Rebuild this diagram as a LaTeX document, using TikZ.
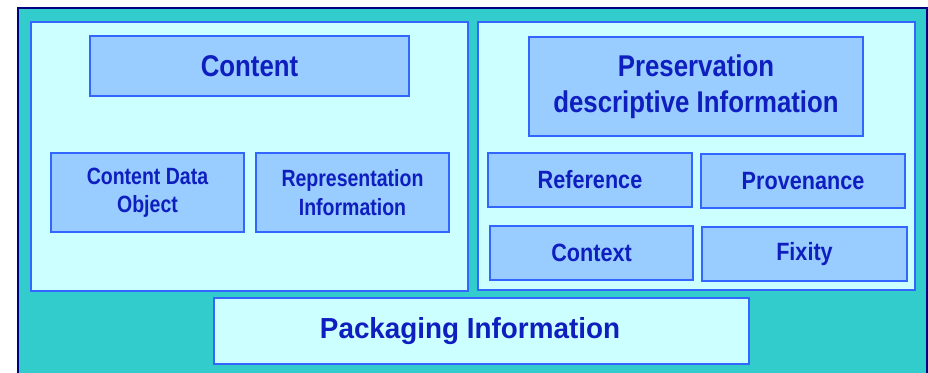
\documentclass[tikz,border=0pt]{standalone}
\usepackage{fontspec}
\setmainfont{Liberation Sans}
\newfontfamily\headfont[FakeStretch=0.86]{Liberation Sans}
\newfontfamily\itemfont[FakeStretch=0.865]{Liberation Sans}
\newfontfamily\subfont[FakeStretch=0.83]{Liberation Sans}
\newfontfamily\packfont[FakeStretch=0.96]{Liberation Sans}

\definecolor{frameteal}{HTML}{33CCCC}
\definecolor{framenavy}{HTML}{000080}
\definecolor{panelfill}{HTML}{CCFFFF}
\definecolor{boxfill}{HTML}{99CCFF}
\definecolor{boxedge}{HTML}{3366FF}
\definecolor{labelblue}{RGB}{15,30,190}

\tikzset{
  panel/.style={draw=boxedge, line width=2pt, fill=panelfill, inner sep=0pt},
  infobox/.style={draw=boxedge, line width=2pt, fill=boxfill, inner sep=0pt,
                  text=labelblue, align=center},
  headtext/.style={font=\headfont\bfseries\fontsize{30}{36}\selectfont},
  itemtext/.style={font=\itemfont\bfseries\fontsize{25}{29}\selectfont},
  subtext/.style={font=\subfont\bfseries\fontsize{23.5}{28.5}\selectfont},
  packtext/.style={text=labelblue, inner sep=0pt,
                   font=\packfont\bfseries\fontsize{29}{34}\selectfont}
}

\begin{document}
\begin{tikzpicture}[x=1pt, y=-1pt]
  \useasboundingbox (0,0) rectangle (928,372);

  % outer teal frame, running past the lower edge
  \begin{scope}
    \clip (0,0) rectangle (928,372);
    \draw[framenavy, line width=2pt, fill=frameteal] (18,8) rectangle (927,392);
  \end{scope}

  % the two panels
  \node[panel, minimum width=437pt, minimum height=269pt] (contentinfo) at (249.5,156.5) {};
  \node[panel, minimum width=437pt, minimum height=268pt] (pdi) at (696.5,156) {};

  % content side
  \node[infobox, headtext, minimum width=319pt, minimum height=60pt] (content) at (249.5,66) {Content};
  \node[infobox, subtext, minimum width=193pt, minimum height=79pt] (cdo) at (147.5,192.5) {Content Data\\Object};
  \node[infobox, subtext, minimum width=193pt, minimum height=79pt] (repinfo) at (352.5,192.5) {Representation\\Information};

  % preservation side
  \node[infobox, headtext, minimum width=334pt, minimum height=99pt] (pres) at (696,86.5) {Preservation\\descriptive Information};
  \node[infobox, itemtext, minimum width=204pt, minimum height=54pt] (reference) at (590,180) {Reference};
  \node[infobox, itemtext, minimum width=204pt, minimum height=54pt] (provenance) at (803,181) {Provenance};
  \node[infobox, itemtext, minimum width=203pt, minimum height=54pt] (context) at (591.5,253) {Context};
  \node[infobox, itemtext, minimum width=205pt, minimum height=54pt] (fixity) at (804.5,254) {Fixity};

  % packaging
  \node[panel, minimum width=535pt, minimum height=66pt] (packaging) at (481.5,331) {};
  \node[packtext] (packlabel) at ([xshift=-11.5pt]packaging.center) {Packaging Information};
\end{tikzpicture}
\end{document}
